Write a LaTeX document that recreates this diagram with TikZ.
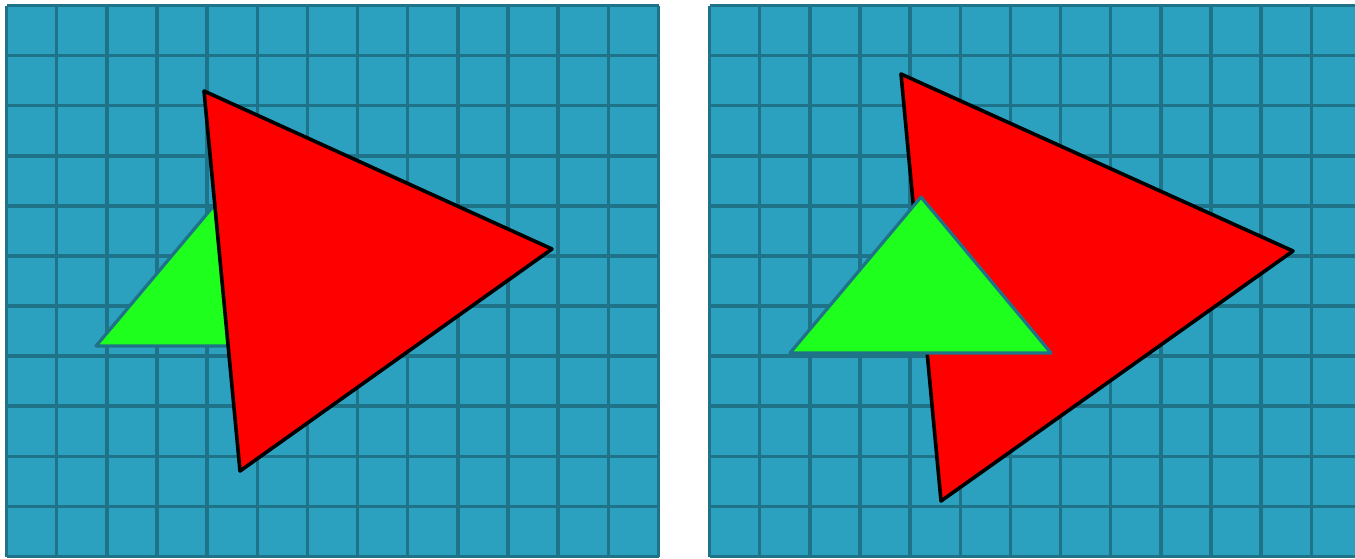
\documentclass[tikz,border=0pt]{standalone}
\definecolor{cellfill}{RGB}{44,161,191}
\definecolor{gridline}{RGB}{31,115,137}
\definecolor{tgreen}{RGB}{30,255,30}
\tikzset{
  gridpanel/.style={fill=cellfill},
  gridstroke/.style={draw=gridline,line width=3.5pt},
  redtri/.style={fill=red,draw=black,line width=3.6pt,line join=round},
  greentri/.style={fill=tgreen,draw=gridline,line width=3.2pt,line join=round}
}
\begin{document}
\begin{tikzpicture}[x=1pt,y=-1pt]
\useasboundingbox (0,0) rectangle (1355,558);
\clip (0,0) rectangle (1355,558);
% left panel
\begin{scope}[shift={(6.5,5.5)}]
  \fill[gridpanel] (0,0) rectangle (652,551);
  \foreach \i in {0,...,13} \draw[gridstroke] ({\i*652/13},0) -- ({\i*652/13},551);
  \foreach \j in {0,...,11} \draw[gridstroke] (0,{\j*551/11}) -- (652,{\j*551/11});
\end{scope}
% right panel
\begin{scope}[shift={(709.5,5.5)}]
  \fill[gridpanel] (0,0) rectangle (652,551);
  \foreach \i in {0,...,13} \draw[gridstroke] ({\i*652/13},0) -- ({\i*652/13},551);
  \foreach \j in {0,...,11} \draw[gridstroke] (0,{\j*551/11}) -- (652,{\j*551/11});
\end{scope}
% left: green under red
\coordinate (gl1) at (96,346);
\coordinate (gl2) at (227,190);
\coordinate (gl3) at (357,346);
\draw[greentri] (gl1) -- (gl2) -- (gl3) -- cycle;
\coordinate (rl1) at (204,91);
\coordinate (rl2) at (552,249);
\coordinate (rl3) at (240,471);
\draw[redtri] (rl1) -- (rl2) -- (rl3) -- cycle;
% right: red under green
\coordinate (rr1) at (901,74);
\coordinate (rr2) at (1293,251);
\coordinate (rr3) at (941,501);
\draw[redtri] (rr1) -- (rr2) -- (rr3) -- cycle;
\coordinate (gr1) at (790,353);
\coordinate (gr2) at (921,197);
\coordinate (gr3) at (1051,353);
\draw[greentri] (gr1) -- (gr2) -- (gr3) -- cycle;
\end{tikzpicture}
\end{document}
